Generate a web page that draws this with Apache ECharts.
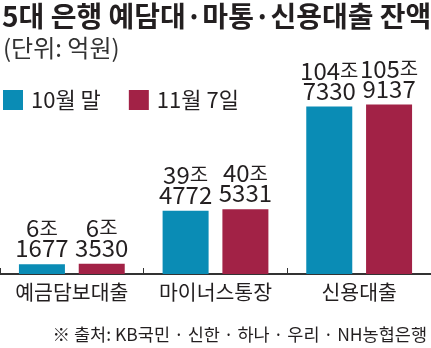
<!DOCTYPE html>
<html>
<head>
<meta charset="utf-8">
<script src="https://cdn.jsdelivr.net/npm/echarts@6/dist/echarts.min.js"></script>
<style>html,body{margin:0;padding:0;background:#fff}#c{width:431px;height:348px}</style>
</head>
<body>
<div id="c"></div>
<script>
const categories = ['예금담보대출', '마이너스통장', '신용대출'];
const seriesNames = ['10월 말', '11월 7일'];
const octEnd = [61677, 394772, 1047330];   // 억원
const nov7 = [63530, 405331, 1059137];     // 억원
const colors = ['#0a8cb5', '#a22246'];

const KR = "'Noto Sans CJK KR', 'Noto Sans', sans-serif";

function fmt(p) {
  const v = p.value;
  return '{n|' + Math.floor(v / 10000) + '}{u|조}\n{n|' + (v % 10000) + '}';
}

const chart = echarts.init(document.getElementById('c'));
chart.setOption({
  animation: false,
  title: {
    text: '5대 은행 예담대·마통·신용대출 잔액',
    left: 2, top: 2, padding: 0,
    textStyle: { fontFamily: KR, fontSize: 28, fontWeight: 'bold', color: '#231f20' }
  },
  legend: {
    data: seriesNames,
    left: 3, top: 89, padding: 0,
    icon: 'rect', itemWidth: 20, itemHeight: 20, itemGap: 28,
    textStyle: { fontFamily: KR, fontSize: 22, color: '#231f20', padding: [0, 0, 0, 3] }
  },
  grid: { left: -2, right: 0, top: 98, bottom: 74 },
  xAxis: {
    type: 'category',
    data: categories,
    axisLine: { lineStyle: { color: '#333', width: 2 } },
    axisTick: { show: true, inside: true, length: 6, lineStyle: { color: '#333', width: 1 } },
    axisLabel: { interval: 0, hideOverlap: false, fontFamily: KR, fontSize: 20.5, color: '#231f20', margin: 8 }
  },
  yAxis: { type: 'value', min: 0, max: 1100000, show: false, splitLine: { show: false } },
  series: [octEnd, nov7].map((d, i) => ({
    name: seriesNames[i],
    type: 'bar',
    data: d,
    barWidth: 46,
    barGap: '30%',
    itemStyle: { color: colors[i] },
    label: {
      show: true, position: 'top', distance: 6,
      formatter: fmt,
      color: '#231f20',
      rich: {
        n: { fontFamily: KR, fontSize: 24, lineHeight: 20, color: '#231f20' },
        u: { fontFamily: KR, fontSize: 20, lineHeight: 20, color: '#231f20' }
      }
    }
  })),
  graphic: [{
    type: 'text', left: 3, top: 36,
    style: { text: '(단위: 억원)', fontFamily: KR, fontSize: 24, fill: '#333' }
  }, {
    type: 'text', right: 4, top: 326,
    style: { text: '※ 출처: KB국민 · 신한 · 하나 · 우리 · NH농협은행', fontFamily: KR, fontSize: 17.5, fill: '#231f20' }
  }]
});
</script>
</body>
</html>
